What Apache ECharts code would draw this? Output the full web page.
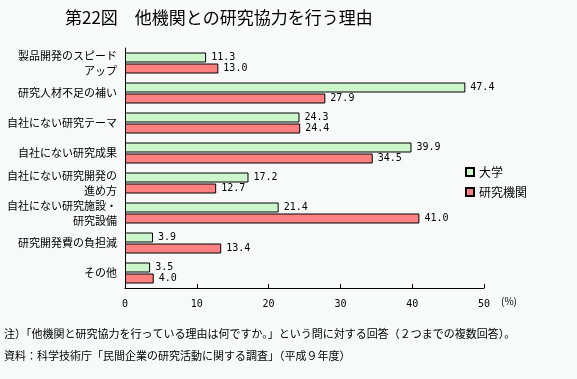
<!DOCTYPE html>
<html><head><meta charset="utf-8">
<script src="https://cdn.jsdelivr.net/npm/echarts@6/dist/echarts.min.js"></script>
<style>html,body{margin:0;padding:0;background:#f8f9f9;}#c{width:577px;height:379px;}</style>
</head><body><div id="c"></div>
<script>
const categories = ['製品開発のスピード\nアップ','研究人材不足の補い','自社にない研究テーマ','自社にない研究成果','自社にない研究開発の\n進め方','自社にない研究施設・\n研究設備','研究開発費の負担減','その他'];
const university = [11.3, 47.4, 24.3, 39.9, 17.2, 21.4, 3.9, 3.5];
const institutes = [13.0, 27.9, 24.4, 34.5, 12.7, 41.0, 13.4, 4.0];
const xTicks = [0, 10, 20, 30, 40, 50];
const seriesNames = ['大学', '研究機関'];
const font = '"Noto Sans CJK JP", sans-serif';
const chart = echarts.init(document.getElementById('c'));
const lbl = {show:true, position:'right', distance:5, color:'#000', fontSize:10, fontFamily:'"DejaVu Sans Mono", monospace', formatter:p=>p.value.toFixed(1)};
chart.setOption({
  backgroundColor:'#f8f9f9',
  animation:false,
  title:{text:'第22図　他機関との研究協力を行う理由', left:60, top:4, textStyle:{fontFamily:font, fontSize:17, fontWeight:'normal', color:'#000'}},
  legend:{orient:'vertical', left:460, top:161, itemWidth:8, itemHeight:8, itemGap:8, icon:'rect',
    textStyle:{fontFamily:font, fontSize:12, color:'#000'}, data:seriesNames},
  grid:{left:125, right:93, top:48, bottom:91},
  xAxis:{type:'value', min:0, max:50, interval:10,
    axisLine:{show:true, lineStyle:{color:'#000'}}, axisTick:{show:true, inside:true, length:4, lineStyle:{color:'#000'}},
    splitLine:{show:false}, axisLabel:{color:'#000', fontSize:10, margin:11, fontFamily:'"DejaVu Sans Mono", monospace', formatter:v=>xTicks.includes(v)?String(v):''}},
  yAxis:{type:'category', inverse:true, data:categories,
    axisLine:{show:true, lineStyle:{color:'#000'}}, axisTick:{show:false},
    axisLabel:{color:'#000', fontSize:11, fontFamily:font, margin:8, lineHeight:15, align:'right'}},
  series:[
    {name:seriesNames[0], type:'bar', data:university, barWidth:10, barGap:'10%',
     itemStyle:{color:'#ccf7cc', borderColor:'#000', borderWidth:1}, label:lbl},
    {name:seriesNames[1], type:'bar', data:institutes, barWidth:10,
     itemStyle:{color:'#ff8080', borderColor:'#000', borderWidth:1}, label:lbl}
  ],
  graphic:[
    {type:'text', left:501, top:296, style:{text:'(%)', fontSize:10, fill:'#000', fontFamily:font}},
    {type:'text', left:4, top:328, style:{text:'注）「他機関と研究協力を行っている理由は何ですか。」という問に対する回答（２つまでの複数回答）。', fontSize:11, fill:'#000', fontFamily:font}},
    {type:'text', left:4, top:350, style:{text:'資料：科学技術庁「民間企業の研究活動に関する調査」（平成９年度）', fontSize:11, fill:'#000', fontFamily:font}}
  ]
});
</script></body></html>
